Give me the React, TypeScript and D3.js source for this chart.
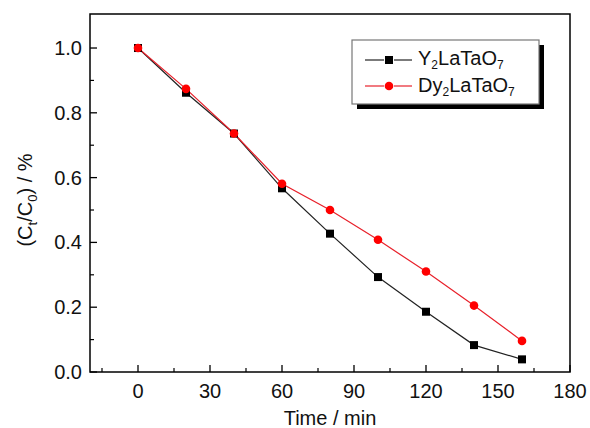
import React from "react";
import * as d3 from "d3";

const times = [0, 20, 40, 60, 80, 100, 120, 140, 160];
const y2LaTaO7 = [1.0, 0.862, 0.736, 0.567, 0.427, 0.293, 0.186, 0.083, 0.039];
const dy2LaTaO7 = [1.0, 0.874, 0.736, 0.581, 0.5, 0.408, 0.31, 0.205, 0.096];
const xTicks = [0, 30, 60, 90, 120, 150, 180];
const yTicks = [0, 0.2, 0.4, 0.6, 0.8, 1.0];

const W = 590;
const H = 428;
const margin = { top: 14, right: 20, bottom: 56, left: 90 };
const font = "'Liberation Sans', Arial, sans-serif";

const Sub = ({ children, size = 13, shift = 5 }: { children: React.ReactNode; size?: number; shift?: number }) => (
  <tspan baselineShift={`-${shift}px`} fontSize={size}>
    {children}
  </tspan>
);

const App = () => {
  const x = d3.scaleLinear().domain([-20, 180]).range([margin.left, W - margin.right]);
  const y = d3.scaleLinear().domain([0, 1.105]).range([H - margin.bottom, margin.top]);

  const line = d3
    .line<number>()
    .x((_, i) => x(times[i]))
    .y((d) => y(d));

  const xMinor = d3.range(-15, 180, 15).filter((v) => v % 30 !== 0);
  const yMinor = d3.range(0.1, 1.1, 0.2);

  const x0 = margin.left;
  const x1 = W - margin.right;
  const y0 = H - margin.bottom;
  const y1 = margin.top;

  // legend box
  const lg = { x: 352, y: 40, w: 187, h: 64 };

  return (
    <svg width={W} height={H} style={{ position: "absolute", left: 0, top: 0, background: "#fff" }}>
      <rect x={0} y={0} width={W} height={H} fill="#fff" />
      {/* axes frame */}
      <rect x={x0} y={y1} width={x1 - x0} height={y0 - y1} fill="none" stroke="#000" strokeWidth={1.5} />

      {xTicks.map((t) => (
        <g key={"xt" + t}>
          <line x1={x(t)} x2={x(t)} y1={y0} y2={y0 - 7} stroke="#000" strokeWidth={1.3} />
          <text x={x(t)} y={y0 + 26} textAnchor="middle" fontFamily={font} fontSize={20} fill="#111">
            {t}
          </text>
        </g>
      ))}
      {xMinor.map((t) => (
        <line key={"xm" + t} x1={x(t)} x2={x(t)} y1={y0} y2={y0 - 4} stroke="#000" strokeWidth={1.2} />
      ))}
      {yTicks.map((t) => (
        <g key={"yt" + t}>
          <line x1={x0} x2={x0 + 7} y1={y(t)} y2={y(t)} stroke="#000" strokeWidth={1.3} />
          <text x={x0 - 8} y={y(t) + 7} textAnchor="end" fontFamily={font} fontSize={20} fill="#111">
            {t.toFixed(1)}
          </text>
        </g>
      ))}
      {yMinor.map((t) => (
        <line key={"ym" + t} x1={x0} x2={x0 + 4} y1={y(t)} y2={y(t)} stroke="#000" strokeWidth={1.2} />
      ))}

      {/* axis titles */}
      <text x={330} y={425} textAnchor="middle" fontFamily={font} fontSize={20} fill="#111">
        Time / min
      </text>
      <text
        transform={`translate(32, 200) rotate(-90)`}
        textAnchor="middle"
        fontFamily={font}
        fontSize={20}
        fill="#111"
      >
        (C<Sub>t</Sub>/C<Sub>0</Sub>) / %
      </text>

      {/* series */}
      <path d={line(y2LaTaO7) || ""} fill="none" stroke="#222" strokeWidth={1.2} />
      <path d={line(dy2LaTaO7) || ""} fill="none" stroke="#e8202a" strokeWidth={1.2} />
      {y2LaTaO7.map((v, i) => (
        <rect key={"b" + i} x={x(times[i]) - 4} y={y(v) - 4} width={8} height={8} fill="#000" />
      ))}
      {dy2LaTaO7.map((v, i) => (
        <circle key={"r" + i} cx={x(times[i])} cy={y(v)} r={4.3} fill="#f00" />
      ))}

      {/* legend */}
      <rect x={lg.x + 5} y={lg.y + 5} width={lg.w} height={lg.h} fill="#000" />
      <rect x={lg.x} y={lg.y} width={lg.w} height={lg.h} fill="#fff" stroke="#777" strokeWidth={1.2} />
      <line x1={365} x2={384} y1={60} y2={60} stroke="#222" strokeWidth={1.2} />
      <line x1={394} x2={412} y1={60} y2={60} stroke="#222" strokeWidth={1.2} />
      <rect x={385} y={56} width={8} height={8} fill="#000" />
      <text x={418} y={65} fontFamily={font} fontSize={20} fill="#111">
        Y<Sub size={12} shift={4}>2</Sub>LaTaO<Sub size={12} shift={4}>7</Sub>
      </text>
      <line x1={365} x2={384} y1={86} y2={86} stroke="#e8202a" strokeWidth={1.2} />
      <line x1={394} x2={412} y1={86} y2={86} stroke="#e8202a" strokeWidth={1.2} />
      <circle cx={389} cy={86} r={4.3} fill="#f00" />
      <text x={418} y={92} fontFamily={font} fontSize={20} fill="#111">
        Dy<Sub size={12} shift={4}>2</Sub>LaTaO<Sub size={12} shift={4}>7</Sub>
      </text>
    </svg>
  );
};

export default App;
